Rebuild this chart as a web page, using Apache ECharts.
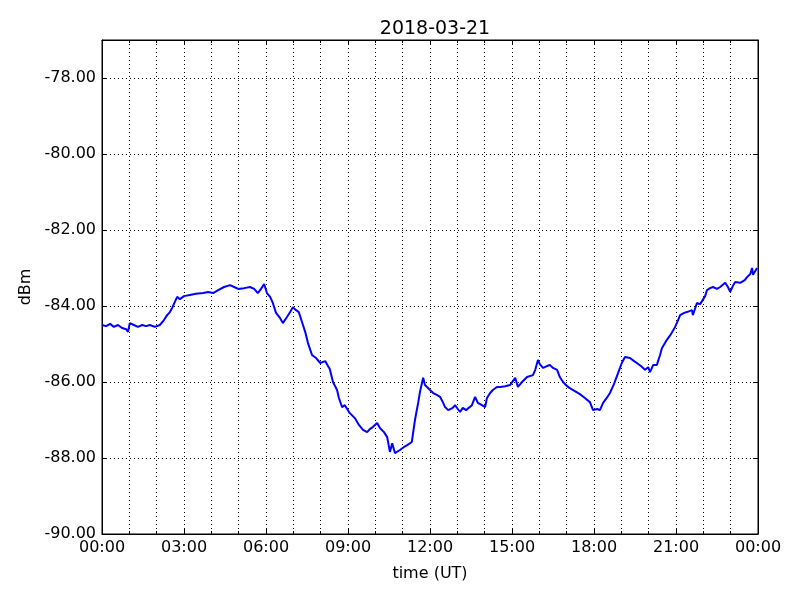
<!DOCTYPE html>
<html>
<head>
<meta charset="utf-8">
<script src="https://cdn.jsdelivr.net/npm/echarts@6/dist/echarts.min.js"></script>
<style>html,body{margin:0;padding:0;background:#fff}#c{width:800px;height:600px}</style>
</head>
<body>
<div id="c"></div>
<script>
// time of day in minutes (UT)
const timeMin = [0,9,18,26,35,44,53,57,61,70,79,88,97,105,116,127,136,143,149,154,160,165,171,180,193,206,222,233,244,255,268,281,290,299,312,325,334,342,349,356,362,369,375,382,391,397,406,413,419,426,432,439,446,452,461,470,479,490,496,500,507,516,520,527,533,544,555,564,573,582,588,595,604,610,619,626,632,637,643,654,663,670,680,687,694,698,705,709,713,720,727,735,742,749,753,760,764,770,775,781,786,792,799,803,812,819,825,834,841,845,852,858,867,874,885,896,907,913,922,933,946,951,957,961,968,977,983,990,999,1005,1012,1021,1027,1038,1049,1060,1071,1078,1087,1093,1100,1108,1115,1124,1133,1141,1148,1159,1168,1174,1183,1192,1199,1203,1210,1218,1225,1229,1240,1249,1258,1264,1269,1278,1284,1295,1297,1306,1313,1317,1324,1328,1335,1341,1350,1357,1368,1374,1379,1385,1390,1401,1405,1411,1416,1423,1427,1429,1434,1438];
// received signal level (dBm)
const dbm = [-84.50,-84.53,-84.47,-84.55,-84.50,-84.58,-84.61,-84.68,-84.45,-84.50,-84.55,-84.50,-84.53,-84.50,-84.55,-84.50,-84.37,-84.24,-84.16,-84.05,-83.89,-83.76,-83.82,-83.74,-83.71,-83.68,-83.66,-83.63,-83.66,-83.58,-83.50,-83.45,-83.50,-83.55,-83.53,-83.50,-83.55,-83.66,-83.55,-83.42,-83.66,-83.76,-83.92,-84.18,-84.32,-84.45,-84.29,-84.16,-84.03,-84.11,-84.16,-84.42,-84.68,-84.97,-85.29,-85.37,-85.50,-85.45,-85.58,-85.66,-86.00,-86.21,-86.42,-86.66,-86.61,-86.82,-86.95,-87.13,-87.26,-87.32,-87.24,-87.18,-87.08,-87.21,-87.32,-87.45,-87.84,-87.61,-87.87,-87.79,-87.71,-87.66,-87.58,-87.00,-86.55,-86.26,-85.89,-86.08,-86.13,-86.21,-86.29,-86.34,-86.39,-86.55,-86.66,-86.74,-86.79,-86.68,-86.61,-86.71,-86.79,-86.68,-86.74,-86.79,-86.61,-86.39,-86.55,-86.61,-86.66,-86.42,-86.29,-86.21,-86.13,-86.13,-86.11,-86.08,-85.89,-86.13,-86.00,-85.87,-85.82,-85.68,-85.42,-85.53,-85.63,-85.58,-85.55,-85.63,-85.68,-85.87,-86.00,-86.11,-86.16,-86.24,-86.32,-86.42,-86.53,-86.74,-86.71,-86.74,-86.55,-86.42,-86.29,-86.05,-85.76,-85.50,-85.34,-85.37,-85.45,-85.50,-85.58,-85.68,-85.61,-85.74,-85.55,-85.55,-85.29,-85.11,-84.89,-84.74,-84.55,-84.39,-84.24,-84.18,-84.16,-84.11,-84.24,-83.92,-83.95,-83.97,-83.74,-83.58,-83.53,-83.50,-83.55,-83.50,-83.39,-83.50,-83.63,-83.47,-83.37,-83.39,-83.37,-83.32,-83.24,-83.16,-83.00,-83.18,-83.08,-83.00];
const xTickStep = 180;   // labelled ticks every 3 h
const yTicks = [-90, -88, -86, -84, -82, -80, -78];

const pad = n => (n < 10 ? '0' : '') + n;
const fmtTime = v => pad(Math.floor(v / 60) % 24) + ':' + pad(v % 60);
const font = 'DejaVu Sans';
const dots = [1, 3];

const chart = echarts.init(document.getElementById('c'), null, {renderer: 'canvas'});
const baseX = {
  type: 'value', min: 0, max: 1440, interval: xTickStep,
  axisLine: {show: true, onZero: false, lineStyle: {color: '#000', width: 1}},
  axisTick: {show: true, inside: true, length: 5, lineStyle: {color: '#000'}},
  minorTick: {show: true, splitNumber: 3, length: 3, lineStyle: {color: '#000'}}
};
const baseY = {
  type: 'value', min: yTicks[0], max: -77, interval: 2,
  axisLine: {show: true, onZero: false, lineStyle: {color: '#000', width: 1}},
  axisTick: {show: true, inside: true, length: 5, lineStyle: {color: '#000'}}
};
chart.setOption({
  animation: false,
  backgroundColor: '#fff',
  textStyle: {fontFamily: font},
  title: {
    text: '2018-03-21', left: 430, top: 15, textAlign: 'center',
    textStyle: {fontFamily: font, fontSize: 19, fontWeight: 'normal', color: '#000'}
  },
  grid: {left: 102, right: 42, top: 40, bottom: 66, show: true, borderColor: '#000', borderWidth: 1, backgroundColor: 'transparent'},
  xAxis: [
    Object.assign({}, baseX, {
      position: 'bottom',
      name: 'time (UT)', nameLocation: 'middle', nameGap: 32,
      nameTextStyle: {fontFamily: font, fontSize: 16, color: '#000'},
      axisLabel: {formatter: fmtTime, fontFamily: font, fontSize: 16, color: '#000', margin: 6},
      splitLine: {show: true, lineStyle: {color: '#000', type: dots, width: 1}},
      minorSplitLine: {show: true, lineStyle: {color: '#000', type: dots, width: 1}}
    }),
    Object.assign({}, baseX, {
      position: 'top', axisLabel: {show: false}, splitLine: {show: false}, minorSplitLine: {show: false}
    })
  ],
  yAxis: [
    Object.assign({}, baseY, {
      position: 'left',
      name: 'dBm', nameLocation: 'middle', nameGap: 66, nameRotate: 90,
      nameTextStyle: {fontFamily: font, fontSize: 16, color: '#000'},
      axisLabel: {formatter: v => v.toFixed(2), fontFamily: font, fontSize: 16, color: '#000', margin: 6,
        showMaxLabel: false},
      splitLine: {show: true, lineStyle: {color: '#000', type: dots, width: 1}}
    }),
    Object.assign({}, baseY, {
      position: 'right', axisLabel: {show: false}, splitLine: {show: false}
    })
  ],
  series: [{
    type: 'line', xAxisIndex: 0, yAxisIndex: 0,
    data: timeMin.map((t, i) => [t, dbm[i]]),
    showSymbol: false, symbol: 'none',
    lineStyle: {color: '#0000ff', width: 2}
  }]
});
</script>
</body>
</html>
